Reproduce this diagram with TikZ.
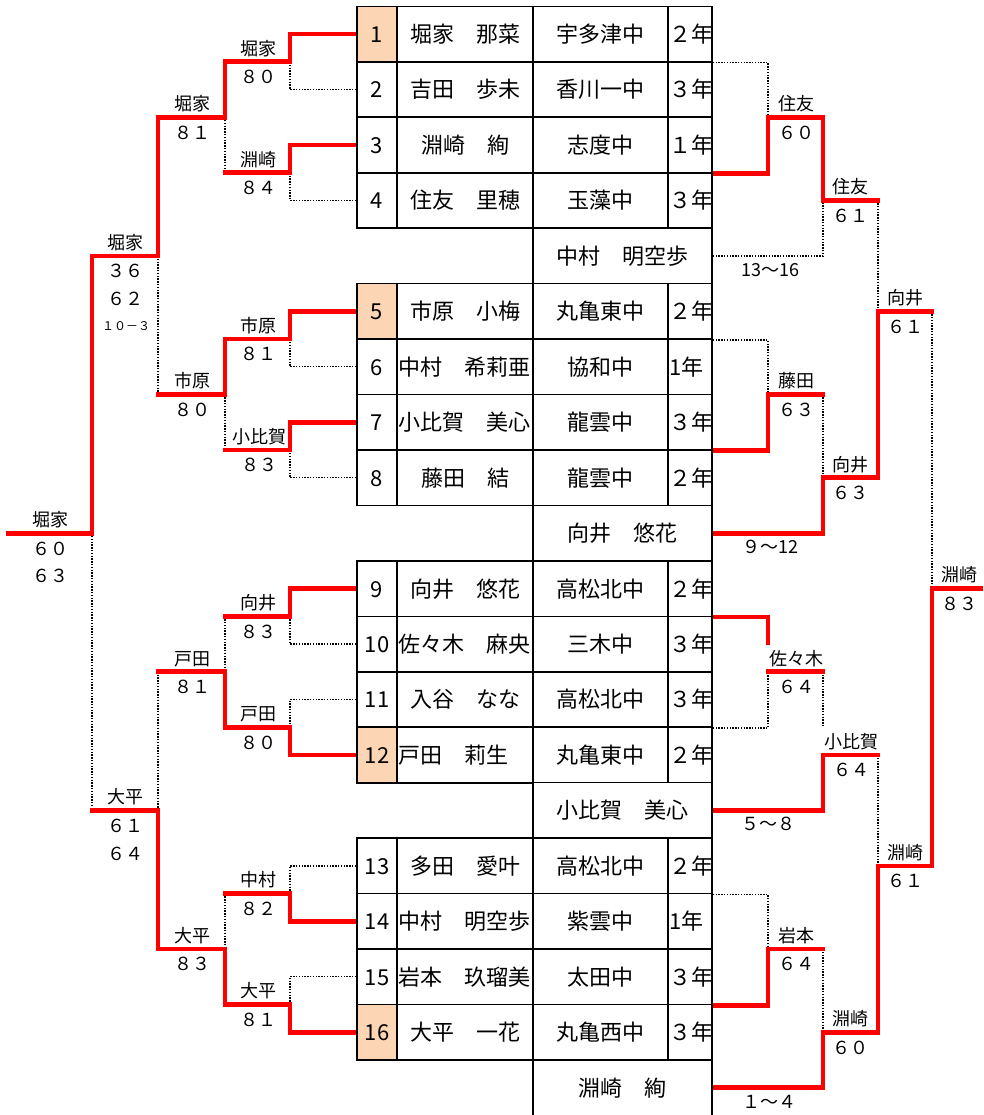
\documentclass[tikz,border=0pt]{standalone}
\usepackage{fontspec}
\setmainfont{Noto Sans CJK JP}
\usetikzlibrary{backgrounds}
\definecolor{peach}{RGB}{252,213,180}
\newcommand{\matchlabel}[5]{%
  \node[lab] (#1a) at (#2,#3-13.5) {#4};
  \node[lab] (#1b) at (#2,#3+15) {#5};}
\begin{document}
\begin{tikzpicture}[x=1pt,y=-1pt,
  win/.style={draw=red,line width=4.7pt,line cap=rect},
  lose/.style={draw=black,line width=1.3pt,dash pattern=on 1.4pt off 1.4pt},
  tcell/.style={draw=black,line width=1.6pt,fill=white,inner sep=0pt,minimum height=55.45pt,
    font=\fontsize{22}{26}\selectfont,text height=19.4pt,text depth=2.6pt},
  numc/.style={tcell,minimum width=40pt},
  namec/.style={tcell,minimum width=136pt},
  namel/.style={tcell,minimum width=136pt,text width=134pt,align=left},
  schc/.style={tcell,minimum width=135pt},
  grc/.style={tcell,minimum width=44pt,text width=42pt,align=left},
  extc/.style={tcell,minimum width=179pt},
  lab/.style={inner sep=0pt,font=\fontsize{18}{20}\selectfont,text height=15.8pt,text depth=2.2pt},
  smalllab/.style={inner sep=0pt,font=\fontsize{12}{14}\selectfont,text height=10.6pt,text depth=1.4pt}]
\useasboundingbox (0,0) rectangle (983,1115);

% ---------- table ----------
\node[numc,fill=peach] (n1) at (377,34.1) {1};
\node[namec] (m1) at (465,34.1) {堀家　那菜};
\node[schc] (s1) at (600.5,34.1) {宇多津中};
\node[grc] (g1) at (690,34.1) {２年};
\node[numc] (n2) at (377,89.6) {2};
\node[namec] (m2) at (465,89.6) {吉田　歩未};
\node[schc] (s2) at (600.5,89.6) {香川一中};
\node[grc] (g2) at (690,89.6) {３年};
\node[numc] (n3) at (377,145.0) {3};
\node[namec] (m3) at (465,145.0) {淵崎　絢};
\node[schc] (s3) at (600.5,145.0) {志度中};
\node[grc] (g3) at (690,145.0) {１年};
\node[numc] (n4) at (377,200.5) {4};
\node[namec] (m4) at (465,200.5) {住友　里穂};
\node[schc] (s4) at (600.5,200.5) {玉藻中};
\node[grc] (g4) at (690,200.5) {３年};
\node[extc] (e1) at (622.5,255.9) {中村　明空歩};

\node[numc,fill=peach] (n5) at (377,311.4) {5};
\node[namec] (m5) at (465,311.4) {市原　小梅};
\node[schc] (s5) at (600.5,311.4) {丸亀東中};
\node[grc] (g5) at (690,311.4) {２年};
\node[numc] (n6) at (377,366.8) {6};
\node[namel] (m6) at (465,366.8) {中村　希莉亜};
\node[schc] (s6) at (600.5,366.8) {協和中};
\node[grc] (g6) at (690,366.8) {1年};
\node[numc] (n7) at (377,422.3) {7};
\node[namel] (m7) at (465,422.3) {小比賀　美心};
\node[schc] (s7) at (600.5,422.3) {龍雲中};
\node[grc] (g7) at (690,422.3) {３年};
\node[numc] (n8) at (377,477.7) {8};
\node[namec] (m8) at (465,477.7) {藤田　結};
\node[schc] (s8) at (600.5,477.7) {龍雲中};
\node[grc] (g8) at (690,477.7) {２年};
\node[extc] (e2) at (622.5,533.2) {向井　悠花};

\node[numc] (n9) at (377,588.6) {9};
\node[namec] (m9) at (465,588.6) {向井　悠花};
\node[schc] (s9) at (600.5,588.6) {高松北中};
\node[grc] (g9) at (690,588.6) {２年};
\node[numc] (n10) at (377,644.1) {10};
\node[namel] (m10) at (465,644.1) {佐々木　麻央};
\node[schc] (s10) at (600.5,644.1) {三木中};
\node[grc] (g10) at (690,644.1) {３年};
\node[numc] (n11) at (377,699.5) {11};
\node[namec] (m11) at (465,699.5) {入谷　なな};
\node[schc] (s11) at (600.5,699.5) {高松北中};
\node[grc] (g11) at (690,699.5) {３年};
\node[numc,fill=peach] (n12) at (377,755.0) {12};
\node[namel] (m12) at (465,755.0) {戸田　莉生};
\node[schc] (s12) at (600.5,755.0) {丸亀東中};
\node[grc] (g12) at (690,755.0) {２年};
\node[extc] (e3) at (622.5,810.4) {小比賀　美心};

\node[numc] (n13) at (377,865.9) {13};
\node[namec] (m13) at (465,865.9) {多田　愛叶};
\node[schc] (s13) at (600.5,865.9) {高松北中};
\node[grc] (g13) at (690,865.9) {２年};
\node[numc] (n14) at (377,921.3) {14};
\node[namel] (m14) at (465,921.3) {中村　明空歩};
\node[schc] (s14) at (600.5,921.3) {紫雲中};
\node[grc] (g14) at (690,921.3) {1年};
\node[numc] (n15) at (377,976.8) {15};
\node[namel] (m15) at (465,976.8) {岩本　玖瑠美};
\node[schc] (s15) at (600.5,976.8) {太田中};
\node[grc] (g15) at (690,976.8) {３年};
\node[numc,fill=peach] (n16) at (377,1032.2) {16};
\node[namec] (m16) at (465,1032.2) {大平　一花};
\node[schc] (s16) at (600.5,1032.2) {丸亀西中};
\node[grc] (g16) at (690,1032.2) {３年};
\node[extc] (e4) at (622.5,1087.7) {淵崎　絢};

% ---------- bracket lines (behind the table) ----------
\begin{scope}[on background layer]
% left, losers
\draw[lose] (n2.west) -| (290,61.85);
\draw[lose] (n4.west) -| (290,172.75);
\draw[lose] (225,117.3) -- (225,172.75);
\draw[lose] (n6.west) -| (290,339.1);
\draw[lose] (n8.west) -| (290,450);
\draw[lose] (225,394.55) -- (225,450);
\draw[lose] (158,255.9) -- (158,394.55);
\draw[lose] (n10.west) -| (290,616.35);
\draw[lose] (n11.west) -| (290,727.25);
\draw[lose] (225,616.35) -- (225,671.8);
\draw[lose] (n13.west) -| (290,893.6);
\draw[lose] (n15.west) -| (290,1004.5);
\draw[lose] (225,893.6) -- (225,949.05);
\draw[lose] (158,671.8) -- (158,810.4);
\draw[lose] (92,533.2) -- (92,810.4);
% right, losers
\draw[lose] (g1.south east) -| (768,117.3);
\draw[lose] (e1.east) -| (823,200.5);
\draw[lose] (878,200.5) -- (878,311.4);
\draw[lose] (g5.south east) -| (768,394.55);
\draw[lose] (823,394.55) -- (823,477.7);
\draw[lose] (g11.south east) -| (768,671.8);
\draw[lose] (823,671.8) -- (823,727.25);
\draw[lose] (878,755) -- (878,865.9);
\draw[lose] (g13.south east) -| (768,949.05);
\draw[lose] (823,949.05) -- (823,1032.2);
\draw[lose] (932,311.4) -- (932,588.6);
% left, winners
\draw[win] (n1.west) -| (290,61.85) -| (225,117.3) -| (158,255.9) -| (92,533.2) -- (8,533.2);
\draw[win] (n3.west) -| (290,172.75) -- (225,172.75);
\draw[win] (n5.west) -| (290,339.1) -| (225,394.55) -- (158,394.55);
\draw[win] (n7.west) -| (290,450) -- (225,450);
\draw[win] (n9.west) -| (290,616.35) -- (225,616.35);
\draw[win] (n12.west) -| (290,727.25) -| (225,671.8) -- (158,671.8);
\draw[win] (n14.west) -| (290,893.6) -- (225,893.6);
\draw[win] (n16.west) -| (290,1004.5) -| (225,949.05) -| (158,810.4) -- (92,810.4);
% right, winners
\draw[win] (g3.south east) -| (768,117.3) -| (823,200.5) -- (878,200.5);
\draw[win] (g7.south east) -| (768,394.55) -- (823,394.55);
\draw[win] (e2.east) -| (823,477.7) -| (878,311.4) -- (932,311.4);
\draw[win] (g9.south east) -| (768,643);
\draw[win] (768,671.8) -- (823,671.8);
\draw[win] (e3.east) -| (823,755) -- (878,755);
\draw[win] (g15.south east) -| (768,949.05) -- (823,949.05);
\draw[win] (e4.east) -| (823,1032.2) -| (878,865.9) -| (932,588.6) -- (981,588.6);
\end{scope}

% ---------- labels, left ----------
\matchlabel{la}{258}{61.85}{堀家}{８０}
\matchlabel{lb}{258}{172.75}{淵崎}{８４}
\matchlabel{lc}{258}{339.1}{市原}{８１}
\matchlabel{ld}{259}{450}{小比賀}{８３}
\matchlabel{le}{258}{616.35}{向井}{８３}
\matchlabel{lf}{258}{727.25}{戸田}{８０}
\matchlabel{lg}{258}{893.6}{中村}{８２}
\matchlabel{lh}{258}{1004.5}{大平}{８１}
\matchlabel{ma}{192}{117.3}{堀家}{８１}
\matchlabel{mb}{192}{394.55}{市原}{８０}
\matchlabel{mc}{192}{671.8}{戸田}{８１}
\matchlabel{md}{192}{949.05}{大平}{８３}
\matchlabel{qa}{125}{255.9}{堀家}{３６}
\node[lab] (qa2) at (125,299) {６２};
\node[smalllab] (qa3) at (126,326) {１０－３};
\matchlabel{qb}{125}{810.4}{大平}{６１}
\node[lab] (qb2) at (125,853.3) {６４};
\matchlabel{fa}{50}{533.2}{堀家}{６０}
\node[lab] (fa2) at (50,576) {６３};

% ---------- labels, right ----------
\matchlabel{ra}{796}{117.3}{住友}{６０}
\matchlabel{rb}{796}{394.55}{藤田}{６３}
\matchlabel{rc}{796}{671.8}{佐々木}{６４}
\matchlabel{rd}{796}{949.05}{岩本}{６４}
\matchlabel{sa}{850}{200.5}{住友}{６１}
\matchlabel{sb}{850}{477.7}{向井}{６３}
\matchlabel{sc}{851}{755}{小比賀}{６４}
\matchlabel{sd}{850}{1032.2}{淵崎}{６０}
\matchlabel{ta}{905}{311.4}{向井}{６１}
\matchlabel{tb}{905}{865.9}{淵崎}{６１}
\matchlabel{wa}{959}{588.6}{淵崎}{８３}
\node[lab] (ka) at (770,269.5) {13～16};
\node[lab] (kb) at (770,546.7) {９～12};
\node[lab] (kc) at (768,824) {５～８};
\node[lab] (kd) at (769,1101.7) {１～４};
\end{tikzpicture}
\end{document}
